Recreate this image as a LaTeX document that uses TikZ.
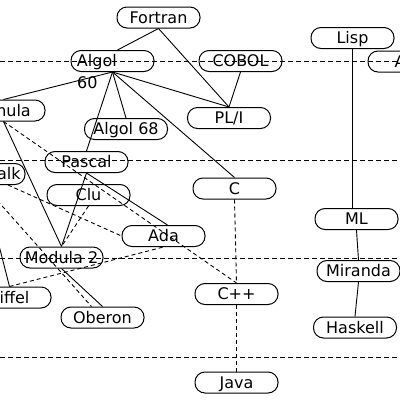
\documentclass[tikz,border=0pt]{standalone}
\usepackage{fontspec}
\setmainfont{DejaVu Sans}
\usepackage{tikz}
\usetikzlibrary{calc}
\tikzset{
  langbox/.style={draw,line width=1pt,rounded corners=10pt,minimum width=83pt,
    minimum height=21pt,inner sep=0pt,text height=11.7pt,text depth=0pt,
    font=\fontsize{16}{18}\selectfont},
  yearlabel/.style={inner sep=0pt,font=\fontsize{16}{18}\selectfont},
  descentline/.style={line width=0.9pt},
  influenceline/.style={line width=0.9pt,dash pattern=on 4pt off 3pt},
  eraline/.style={line width=0.9pt,dash pattern=on 5pt off 3pt}
}

\begin{document}
\begin{tikzpicture}[x=1pt,y=-1pt]
  \useasboundingbox (0,0) rectangle (400,400);
  \clip (0,0) rectangle (400,400);
  \draw[eraline] (0,61) -- (400,61);
  \draw[eraline] (0,160) -- (400,160);
  \draw[eraline] (0,258) -- (400,258);
  \draw[eraline] (0,357.5) -- (400,357.5);

  \node[langbox] (fortran) at (158.5,17.5) {Fortran};
  \node[langbox,text width=71pt,align=left] (algol) at (112.5,61) {Algol};
  \node[yearlabel,anchor=base west] (algolyear) at (77,88) {60};
  \node[langbox] (cobol) at (240.5,61) {COBOL};
  \node[langbox] (lisp) at (352.5,38) {Lisp};
  \node[langbox] (apl) at (409.5,61.5) {APL};
  \node[langbox] (simula) at (3.5,110.5) {Simula};
  \node[langbox] (algolsixtyeight) at (126,129) {Algol 68};
  \node[langbox] (pli) at (229,118) {PL/I};
  \node[langbox] (smalltalk) at (-16.5,174) {Smalltalk};
  \node[langbox] (pascal) at (86.5,162) {Pascal};
  \node[langbox] (clu) at (88.5,195) {Clu};
  \node[langbox] (c) at (234.5,188.5) {C};
  \node[langbox] (ada) at (163.5,236) {Ada};
  \node[langbox] (ml) at (356.5,219) {ML};
  \node[langbox] (modula) at (61.5,257.5) {Modula 2};
  \node[langbox] (eiffel) at (9.5,297.5) {Eiffel};
  \node[langbox] (oberon) at (102.5,317.5) {Oberon};
  \node[langbox] (miranda) at (358.5,271) {Miranda};
  \node[langbox] (cpp) at (236.5,294) {C++};
  \node[langbox] (haskell) at (355,327.5) {Haskell};
  \node[langbox] (java) at (236.5,382.5) {Java};

  \draw[descentline] (fortran.south) -- ([xshift=5pt]algol.north);
  \draw[descentline] (fortran.south) -- (pli.north);
  \draw[descentline] (cobol.south) -- (pli.north);
  \draw[descentline] (algol.south) -- (pli.north);
  \draw[descentline] (algol.south) -- (c.north);
  \draw[descentline] (algol.south) -- (simula.north);
  \draw[descentline] (algol.south) -- (algolsixtyeight.north);
  \draw[descentline] (algol.south) -- (pascal.north);
  \draw[descentline] (simula.south) -- (modula.north);
  \draw[descentline] (pascal.south) -- (modula.north);
  \draw[descentline] (pascal.south) -- ([xshift=4pt]ada.north);
  \draw[descentline] (smalltalk.south) -- (eiffel.north);
  \draw[descentline] (modula.south) -- (oberon.north);
  \draw[descentline] (lisp.south) -- (lisp.south |- ml.north);
  \draw[descentline] (ml.south) -- (miranda.north);
  \draw[descentline] (miranda.south) -- (haskell.north);

  \draw[influenceline] (c.south) -- (cpp.north);
  \draw[influenceline] (cpp.south) -- (java.north);
  \draw[influenceline] (simula.south) -- (cpp.north);
  \draw[influenceline] (smalltalk) -- (ada.west);
  \draw[influenceline] (smalltalk.south) -- ([xshift=-11pt]oberon.north);
  \draw[influenceline] (eiffel.north) -- (ada.south);
  \draw[influenceline] (clu.south) -- (modula.north);
\end{tikzpicture}
\end{document}
